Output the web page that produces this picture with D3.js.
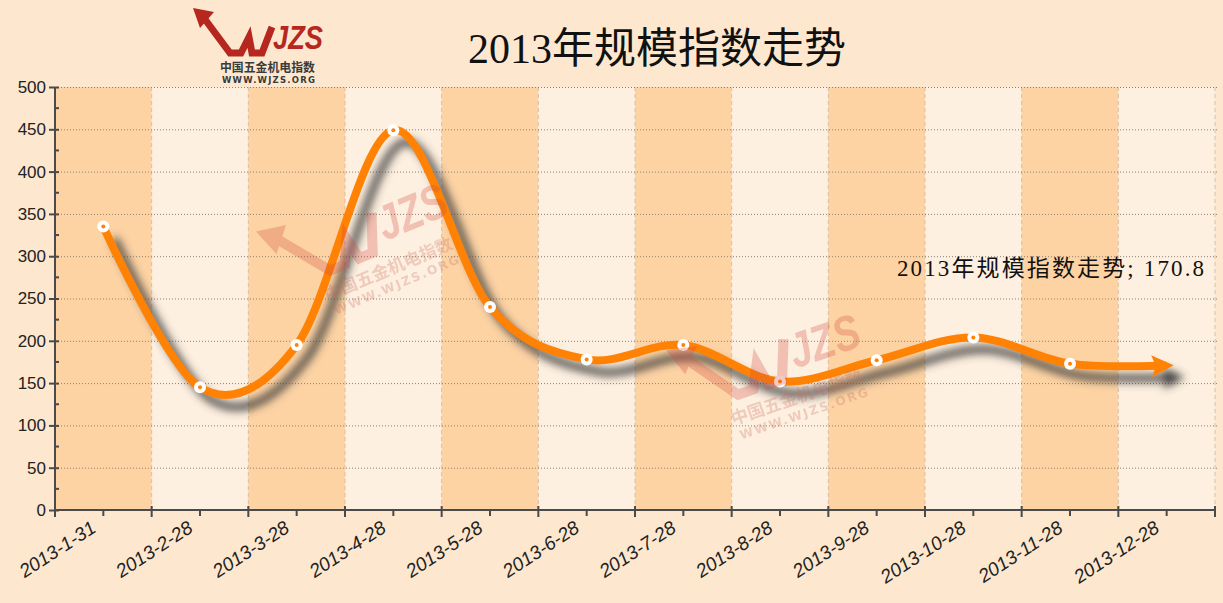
<!DOCTYPE html>
<html>
<head>
<meta charset="utf-8">
<script src="https://cdn.jsdelivr.net/npm/d3@7"></script>
<style>
  html, body { margin: 0; padding: 0; background: #FDE8CF; }
  svg { display: block; }
</style>
</head>
<body>
<svg id="chart" width="1223" height="603"></svg>
<script>
// ---- data ----
const categories = ["2013-1-31","2013-2-28","2013-3-28","2013-4-28","2013-5-28","2013-6-28",
                    "2013-7-28","2013-8-28","2013-9-28","2013-10-28","2013-11-28","2013-12-28"];
const values = [335, 145, 195, 449, 240, 178, 195, 152, 177, 204, 173, 170.8];
const yTicks = [0, 50, 100, 150, 200, 250, 300, 350, 400, 450, 500];
const yMinorTicks = [25, 75, 125, 175, 225, 275, 325, 375, 425, 475];
const seriesName = "2013年规模指数走势";
const chartTitle = "2013年规模指数走势";
const lastLabel = "2013年规模指数走势; 170.8";
const logoCn = "中国五金机电指数";
const logoUrl = "WWW.WJZS.ORG";

// ---- layout ----
const W = 1223, H = 603;
const plot = { left: 55, right: 1215, top: 87, bottom: 510 };
const orange = "#FF8205";

const svg = d3.select("#chart");
const defs = svg.append("defs");
defs.append("filter").attr("id", "blur")
  .attr("x", "-10%").attr("y", "-20%").attr("width", "120%").attr("height", "140%")
  .append("feGaussianBlur").attr("stdDeviation", 4);

function addMarker(id, color) {
  defs.append("marker").attr("id", id)
    .attr("viewBox", "0 0 22 22").attr("refX", 15).attr("refY", 11)
    .attr("markerWidth", 22).attr("markerHeight", 22)
    .attr("markerUnits", "userSpaceOnUse").attr("orient", "auto")
    .append("path").attr("d", "M0,0 L22,11 L0,22 L4,11 Z").attr("fill", color);
}
addMarker("arrowOrange", orange);
addMarker("arrowGray", "#3a3a3a");

svg.append("rect").attr("width", W).attr("height", H).attr("fill", "#FDE8CF");

const x = d3.scaleBand().domain(categories).range([plot.left, plot.right]).padding(0);
const y = d3.scaleLinear().domain([0, 500]).range([plot.bottom, plot.top]);
const bw = x.bandwidth();
const cx = c => x(c) + bw / 2;

// bands
svg.append("g").selectAll("rect").data(categories).join("rect")
  .attr("x", d => x(d)).attr("y", y(500))
  .attr("width", bw).attr("height", y(0) - y(500))
  .attr("fill", (d, i) => i % 2 === 0 ? "#FDD3A4" : "#FEF0E0");

// vertical dashed separators
svg.append("g").selectAll("line").data(categories.slice(1).concat(["__end"])).join("line")
  .attr("x1", d => d === "__end" ? plot.right : x(d))
  .attr("x2", d => d === "__end" ? plot.right : x(d))
  .attr("y1", y(500)).attr("y2", y(0))
  .attr("stroke", "#D9BFA4").attr("stroke-width", 1).attr("stroke-dasharray", "4,3");

// horizontal dotted gridlines
svg.append("g").selectAll("line").data(yTicks.filter(t => t > 0)).join("line")
  .attr("x1", plot.left).attr("x2", plot.right + 4)
  .attr("y1", d => y(d) + 0.5).attr("y2", d => y(d) + 0.5)
  .attr("stroke", "#8E8072").attr("stroke-width", 1).attr("stroke-dasharray", "1,2");

// axes
const axisColor = "#4A4A4A";
const yAxis = svg.append("g").attr("transform", `translate(${plot.left},0)`)
  .call(d3.axisLeft(y).tickValues(yTicks).tickSize(6).tickPadding(3));
yAxis.select(".domain").remove();
yAxis.selectAll(".tick line").attr("x2", -6).attr("x1", 4).attr("stroke", axisColor).attr("stroke-width", 2);
yAxis.selectAll(".tick text")
  .attr("font-family", "'Liberation Sans', Arial, sans-serif").attr("font-size", 17)
  .attr("fill", "#222").attr("x", -9);
svg.append("g").selectAll("line").data(yMinorTicks).join("line")
  .attr("x1", plot.left).attr("x2", plot.left + 4)
  .attr("y1", d => y(d)).attr("y2", d => y(d))
  .attr("stroke", axisColor).attr("stroke-width", 2);
svg.append("line").attr("x1", plot.left).attr("x2", plot.left)
  .attr("y1", y(500)).attr("y2", y(0) + 1).attr("stroke", axisColor).attr("stroke-width", 2);

// x axis
const xBounds = categories.map(c => x(c)).concat([plot.right]);
svg.append("g").selectAll("line").data(xBounds).join("line")
  .attr("x1", d => d).attr("x2", d => d).attr("y1", y(0) - 4).attr("y2", y(0) + 7)
  .attr("stroke", axisColor).attr("stroke-width", 2);
svg.append("g").selectAll("line").data(categories).join("line")
  .attr("x1", d => cx(d)).attr("x2", d => cx(d)).attr("y1", y(0)).attr("y2", y(0) + 6)
  .attr("stroke", axisColor).attr("stroke-width", 2);
svg.append("line").attr("x1", plot.left - 1).attr("x2", plot.right + 1)
  .attr("y1", y(0)).attr("y2", y(0)).attr("stroke", axisColor).attr("stroke-width", 2);

svg.append("g").selectAll("text").data(categories).join("text")
  .attr("transform", d => `translate(${cx(d) - 6},${y(0) + 21}) rotate(-33)`)
  .attr("text-anchor", "end")
  .attr("font-family", "'Liberation Sans', Arial, sans-serif")
  .attr("font-style", "italic").attr("font-size", 19).attr("fill", "#222")
  .text(d => d);

// line
const pts = categories.map((c, i) => [cx(c), y(values[i])]);
const lineGen = d3.line().curve(d3.curveCardinal.tension(0));
svg.append("path").attr("d", lineGen(pts))
  .attr("transform", "translate(11,12)")
  .attr("fill", "none").attr("stroke", "#3a3a3a").attr("stroke-width", 8)
  .attr("stroke-opacity", 0.85)
  .attr("marker-end", "url(#arrowGray)")
  .attr("filter", "url(#blur)");
svg.append("path").attr("d", lineGen(pts))
  .attr("fill", "none").attr("stroke", orange).attr("stroke-width", 8)
  .attr("marker-end", "url(#arrowOrange)");

// markers (all but the last which carries the arrow)
const dots = svg.append("g").selectAll("g").data(pts.slice(0, -1)).join("g")
  .attr("transform", d => `translate(${d[0]},${d[1]})`);
dots.append("circle").attr("r", 6).attr("fill", "#fff");
dots.append("circle").attr("r", 2).attr("fill", orange);

// logo drawing
function drawLogo(g, red, ink) {
  g.append("path").attr("d", "M-27,-63 L-6,-59 L-20,-43 Z").attr("fill", red);
  g.append("path").attr("d", "M-16,-53 L10,-18 L21,-18 L29,-34 L32,-18 L42,-18 L52,-44")
    .attr("fill", "none").attr("stroke", red).attr("stroke-width", 7)
    .attr("stroke-linejoin", "miter").attr("stroke-miterlimit", 6);
  g.append("text").attr("x", 53).attr("y", -22).text("JZS")
    .attr("font-family", "'Liberation Sans', Arial, sans-serif")
    .attr("font-weight", "bold").attr("font-style", "italic").attr("font-size", 34)
    .attr("textLength", 50).attr("lengthAdjust", "spacingAndGlyphs").attr("fill", red);
  g.append("text").attr("x", 0).attr("y", 1).text(logoCn)
    .attr("font-family", "'Noto Sans CJK SC', sans-serif").attr("font-weight", "bold")
    .attr("font-size", 12).attr("textLength", 95).attr("lengthAdjust", "spacingAndGlyphs")
    .attr("fill", ink);
  g.append("text").attr("x", 2).attr("y", 12).text(logoUrl)
    .attr("font-family", "'DejaVu Sans', sans-serif").attr("font-weight", "bold")
    .attr("font-size", 8.5).attr("textLength", 93).attr("lengthAdjust", "spacing")
    .attr("fill", ink);
}
drawLogo(svg.append("g").attr("transform", "translate(220,71)"), "#B5271F", "#3A3A3A");
drawLogo(svg.append("g").attr("transform", "translate(327,300) rotate(-22.8) scale(1.44)")
  .attr("opacity", 0.28), "#D0463E", "#C86A5E");
drawLogo(svg.append("g").attr("transform", "translate(733,424) rotate(-19) scale(1.45)")
  .attr("opacity", 0.28), "#D0463E", "#C86A5E");

// data label for the last point
svg.append("text").attr("x", 897).attr("y", 276).text(lastLabel)
  .attr("font-family", "'Liberation Serif', 'Noto Sans CJK SC', serif")
  .attr("font-size", 23).attr("fill", "#111")
  .attr("textLength", 307).attr("lengthAdjust", "spacing");

// title
svg.append("text").attr("x", 657).attr("y", 63).attr("text-anchor", "middle").text(chartTitle)
  .attr("font-family", "'Liberation Serif', 'Noto Sans CJK SC', serif")
  .attr("font-size", 42).attr("fill", "#111");
</script>
</body>
</html>
